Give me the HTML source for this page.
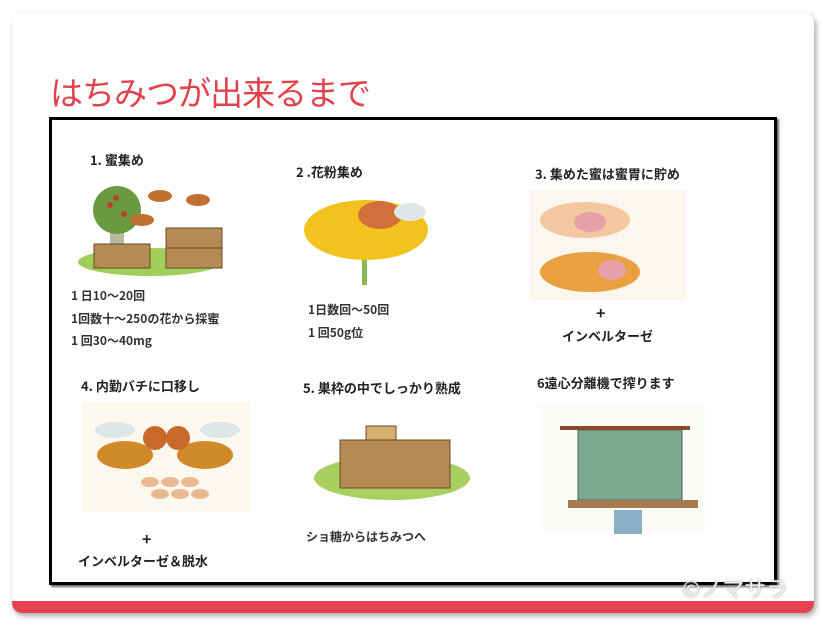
<!DOCTYPE html>
<html><head><meta charset="utf-8"><style>
body{margin:0;width:828px;height:628px;background:#fff;position:relative;overflow:hidden;font-family:"Liberation Sans","Noto Sans CJK JP",sans-serif}
.card{position:absolute;left:12px;top:13px;width:802px;height:600px;background:#fff;border-radius:10px;box-shadow:2px 3px 6px rgba(0,0,0,.35);overflow:hidden}
.band{position:absolute;left:0;bottom:0;width:100%;height:12px;background:#e5434f}
.title{position:absolute;left:38px;top:54px;font-size:33px;color:#e0434d;letter-spacing:-1px;font-family:"Noto Sans CJK JP",sans-serif}
.box{position:absolute;left:37px;top:104px;width:722px;height:462px;border:3px solid #000;box-shadow:2px 2px 2px #666}
.t{position:absolute;font-size:13px;font-weight:bold;color:#222;white-space:nowrap;font-family:"Noto Sans CJK JP",sans-serif}
.s{position:absolute;font-size:12px;font-weight:bold;color:#333;white-space:nowrap;font-family:"Noto Sans CJK JP",sans-serif}
.wm{position:absolute;left:682px;top:572px;font-size:22px;color:#eee;text-shadow:0 0 2px #999;font-family:"Noto Sans CJK JP",sans-serif}
svg{position:absolute}
</style></head><body>
<div class="card">
<div class="title">はちみつが出来るまで</div>
<div class="box"></div>
<div class="band"></div>
</div>
<!-- texts in page coords -->
<div class="t" style="left:90px;top:150px">1. 蜜集め</div>
<div class="t" style="left:296px;top:162px">2 .花粉集め</div>
<div class="t" style="left:535px;top:164px">3. 集めた蜜は蜜胃に貯め</div>
<div class="s" style="left:71px;top:287px">1 日10～20回</div>
<div class="s" style="left:71px;top:310px">1回数十～250の花から採蜜</div>
<div class="s" style="left:71px;top:332px">1 回30～40mg</div>
<div class="s" style="left:308px;top:301px">1日数回～50回</div>
<div class="s" style="left:308px;top:324px">1 回50g位</div>
<div class="t" style="left:596px;top:300px;font-size:16px">+</div>
<div class="t" style="left:562px;top:326px">インベルターゼ</div>
<div class="t" style="left:81px;top:376px">4. 内勤バチに口移し</div>
<div class="t" style="left:303px;top:378px">5. 巣枠の中でしっかり熟成</div>
<div class="t" style="left:537px;top:373px">6遠心分離機で搾ります</div>
<div class="t" style="left:142px;top:526px;font-size:16px">+</div>
<div class="t" style="left:78px;top:551px">インベルターゼ＆脱水</div>
<div class="s" style="left:306px;top:528px">ショ糖からはちみつへ</div>
<div class="wm">©ノマサラ</div>

<svg width="828" height="628" viewBox="0 0 828 628">
<!-- panel1 -->
<ellipse cx="150" cy="262" rx="72" ry="14" fill="#9fcf5a"/>
<rect x="110" y="220" width="14" height="30" fill="#b9b9a0"/>
<circle cx="117" cy="210" r="24" fill="#6a9a40"/>
<circle cx="110" cy="205" r="3" fill="#c04030"/><circle cx="124" cy="214" r="3" fill="#c04030"/><circle cx="116" cy="198" r="3" fill="#c04030"/>
<rect x="94" y="244" width="56" height="24" fill="#b48a55" stroke="#6b4a22"/>
<rect x="166" y="228" width="56" height="40" fill="#b48a55" stroke="#6b4a22"/>
<line x1="166" y1="248" x2="222" y2="248" stroke="#6b4a22"/>
<ellipse cx="160" cy="196" rx="12" ry="6" fill="#c07030"/><ellipse cx="198" cy="200" rx="12" ry="6" fill="#c07030"/><ellipse cx="142" cy="220" rx="12" ry="6" fill="#c07030"/>
<!-- panel2 -->
<rect x="362" y="250" width="5" height="35" fill="#8ab850"/>
<ellipse cx="366" cy="230" rx="62" ry="30" fill="#f2c21e"/>
<ellipse cx="380" cy="215" rx="22" ry="14" fill="#d0703a"/>
<ellipse cx="410" cy="212" rx="16" ry="9" fill="#dfe8e8"/>
<!-- panel3 -->
<rect x="530" y="190" width="156" height="110" fill="#fbf7ee"/>
<ellipse cx="585" cy="220" rx="45" ry="18" fill="#f3c8a0"/>
<ellipse cx="590" cy="222" rx="16" ry="10" fill="#e8a0a8"/>
<ellipse cx="590" cy="272" rx="50" ry="20" fill="#e8a040"/>
<ellipse cx="612" cy="270" rx="14" ry="10" fill="#e8a0a8"/>
<!-- panel4 -->
<rect x="82" y="402" width="168" height="110" fill="#fdf8ee"/>
<ellipse cx="125" cy="455" rx="28" ry="14" fill="#d08a2a"/>
<ellipse cx="205" cy="455" rx="28" ry="14" fill="#d08a2a"/>
<circle cx="155" cy="438" r="12" fill="#c86a2a"/><circle cx="178" cy="438" r="12" fill="#c86a2a"/>
<ellipse cx="115" cy="430" rx="20" ry="8" fill="#dde6e6"/><ellipse cx="220" cy="430" rx="20" ry="8" fill="#dde6e6"/>
<g fill="#e8b890"><ellipse cx="150" cy="482" rx="9" ry="5"/><ellipse cx="170" cy="482" rx="9" ry="5"/><ellipse cx="190" cy="482" rx="9" ry="5"/><ellipse cx="160" cy="494" rx="9" ry="5"/><ellipse cx="180" cy="494" rx="9" ry="5"/><ellipse cx="200" cy="494" rx="9" ry="5"/></g>
<!-- panel5 -->
<ellipse cx="392" cy="478" rx="78" ry="22" fill="#a8d060"/>
<rect x="340" y="440" width="110" height="48" fill="#b48a55" stroke="#6b4a22"/>
<rect x="366" y="426" width="30" height="14" fill="#d4b070" stroke="#6b4a22"/>
<!-- panel6 -->
<rect x="540" y="405" width="165" height="125" fill="#fbfbf8"/>
<rect x="578" y="430" width="104" height="70" fill="#7aa890" stroke="#4a6858"/>
<line x1="560" y1="428" x2="690" y2="428" stroke="#8a4a2a" stroke-width="4"/>
<rect x="568" y="500" width="130" height="8" fill="#a87a50"/>
<rect x="614" y="510" width="28" height="24" fill="#8ab0c8"/>
</svg>
</body></html>
